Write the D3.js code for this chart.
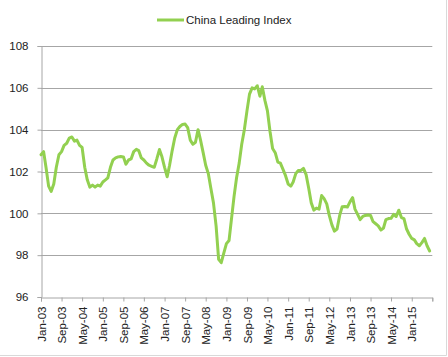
<!DOCTYPE html>
<html><head><meta charset="utf-8">
<script src="https://cdn.jsdelivr.net/npm/d3@7/dist/d3.min.js"></script>
<style>body{margin:0;background:#fff;} svg{display:block;font-family:"Liberation Sans","DejaVu Sans",sans-serif;}</style>
</head><body>
<script>
const seriesName = "China Leading Index";
const startMonth = "2003-01";
const values = [
102.8,102.95,102.2,101.3,101.05,101.4,102.2,102.8,102.95,103.25,103.35,103.6,
103.65,103.45,103.5,103.25,103.15,102.2,101.6,101.25,101.35,101.25,101.35,101.3,
101.5,101.6,101.7,102.2,102.55,102.65,102.7,102.72,102.7,102.35,102.55,102.6,
102.95,103.06,103.0,102.65,102.55,102.4,102.3,102.25,102.2,102.6,103.05,102.7,
102.2,101.75,102.3,103.0,103.6,104.0,104.15,104.25,104.27,104.1,103.5,103.3,
103.4,104.0,103.5,102.9,102.3,101.9,101.2,100.5,99.4,97.8,97.64,98.1,
98.55,98.7,99.7,100.8,101.7,102.4,103.3,104.0,104.9,105.7,106.0,105.95,
106.1,105.6,106.05,105.4,104.9,103.9,103.1,102.9,102.45,102.4,102.1,101.8,
101.4,101.3,101.5,101.9,102.05,102.05,102.15,101.85,101.2,100.5,100.15,100.25,
100.2,100.85,100.7,100.45,99.9,99.45,99.15,99.25,99.9,100.32,100.33,100.3,
100.55,100.75,100.2,99.95,99.7,99.85,99.9,99.92,99.9,99.6,99.5,99.4,
99.2,99.3,99.7,99.75,99.76,99.95,99.85,100.15,99.8,99.75,99.25,99.0,
98.8,98.73,98.55,98.45,98.6,98.8,98.45,98.2
];
const yTicks = [96, 98, 100, 102, 104, 106, 108];
const xTickLabels = ["Jan-03","Sep-03","May-04","Jan-05","Sep-05","May-06","Jan-07","Sep-07","May-08","Jan-09","Sep-09","May-10","Jan-11","Sep-11","May-12","Jan-13","Sep-13","May-14","Jan-15",""];
const xTickStep = 8;

const W = 448, H = 357;
const m = {left: 41, right: 15.7, top: 46, bottom: 60};
const svg = d3.select("body").append("svg").attr("width", W).attr("height", H);

const parse = d3.timeParse("%Y-%m");
const t0 = parse(startMonth);
const dates = values.map((v, i) => d3.timeMonth.offset(t0, i));
const tickDates = xTickLabels.map((l, i) => d3.timeMonth.offset(t0, i * xTickStep));

const x = d3.scaleTime().domain([t0, tickDates[tickDates.length - 1]]).range([m.left, W - m.right]);
const y = d3.scaleLinear().domain([96, 108]).range([H - m.bottom, m.top]);

// chart border (right / bottom)
svg.append("line").attr("x1", W - 1.5).attr("x2", W - 1.5).attr("y1", 0).attr("y2", H - 1.5).attr("stroke", "#d9d9d9");
svg.append("line").attr("x1", 0).attr("x2", W - 1.5).attr("y1", H - 1.5).attr("y2", H - 1.5).attr("stroke", "#d9d9d9");

// gridlines
svg.append("g").selectAll("line").data(yTicks.filter(d => d !== 96)).join("line")
  .attr("x1", m.left).attr("x2", W - m.right)
  .attr("y1", d => Math.round(y(d)) + 0.5).attr("y2", d => Math.round(y(d)) + 0.5)
  .attr("stroke", "#a6a6a6").attr("stroke-width", 1);

// y axis
const yAxis = svg.append("g").attr("transform", `translate(${m.left + 0.5},0)`)
  .call(d3.axisLeft(y).tickValues(yTicks).tickSize(4).tickPadding(9).tickFormat(d3.format("d")));
yAxis.select(".domain").attr("stroke", "#a6a6a6");
yAxis.selectAll(".tick line").attr("stroke", "#a6a6a6");
yAxis.selectAll("text").attr("font-size", 11.5).attr("fill", "#222").attr("font-family", "Liberation Sans, sans-serif");

// x axis
const xAxis = svg.append("g").attr("transform", `translate(0,${Math.round(y(96)) + 0.5})`)
  .call(d3.axisBottom(x).tickValues(tickDates).tickSize(4).tickFormat((d, i) => xTickLabels[i]));
xAxis.select(".domain").attr("stroke", "#a6a6a6");
xAxis.selectAll(".tick line").attr("stroke", "#a6a6a6");
xAxis.selectAll("text")
  .attr("font-size", 11.5).attr("fill", "#222")
  .attr("transform", "rotate(-90)")
  .attr("text-anchor", "end")
  .attr("x", -9).attr("y", 0).attr("dy", "0.35em");

// line
const line = d3.line().x((d, i) => x(dates[i])).y(d => y(d)).curve(d3.curveLinear);
svg.append("path").datum(values).attr("d", line)
  .attr("fill", "none").attr("stroke", "#92D050").attr("stroke-width", 3)
  .attr("stroke-linejoin", "round").attr("stroke-linecap", "round");

// legend
const lg = svg.append("g");
lg.append("line").attr("x1", 157).attr("x2", 184).attr("y1", 20).attr("y2", 20)
  .attr("stroke", "#92D050").attr("stroke-width", 3);
lg.append("text").attr("x", 186).attr("y", 20).attr("dy", "0.35em")
  .attr("font-size", 11.5).attr("fill", "#222").text(seriesName);
</script>
</body></html>
